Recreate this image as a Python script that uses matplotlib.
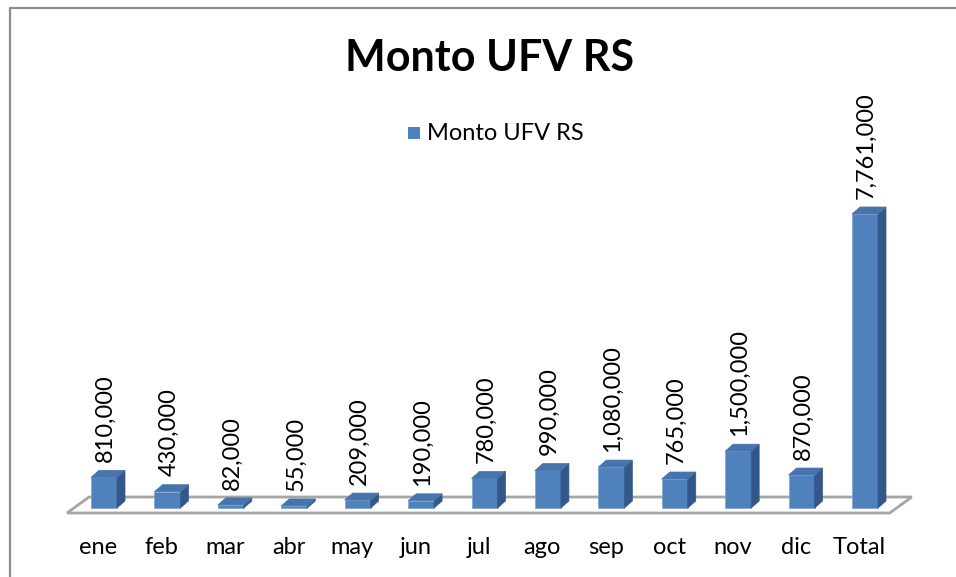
import matplotlib.pyplot as plt
from matplotlib.patches import Polygon, Rectangle
from matplotlib.lines import Line2D

# === datos ===
meses = ["ene", "feb", "mar", "abr", "may", "jun", "jul", "ago", "sep",
         "oct", "nov", "dic", "Total"]
montos = [810000, 430000, 82000, 55000, 209000, 190000, 780000, 990000,
          1080000, 765000, 1500000, 870000, 7761000]
serie = "Monto UFV RS"

FRONT = "#4F81BD"
SIDE = "#34578A"
TOP = "#4774AC"
FONT = "Lato"

W, H = 956, 577
fig = plt.figure(figsize=(W / 100, H / 100), dpi=100)

# marco exterior (solo arriba e izquierda quedan dentro de la imagen)
fig.lines.append(Line2D([9.5 / W, 9.5 / W, 1], [0, 1 - 7.5 / H, 1 - 7.5 / H],
                        transform=fig.transFigure, color="#8C8C8C", linewidth=1.6))

ax = fig.add_axes([60 / W, (H - 530) / H, (925 - 60) / W, (530 - 80) / H])
ax.set_xlim(-0.694, 12.946)
ax.set_ylim(-580756, 11298344)
ax.axis("off")

# === piso 3D ===
dep_x, dep_y = 0.347, 422000
fl = Polygon([(-0.583, -132000), (12.39, -132000),
              (12.39 + dep_x, -132000 + dep_y), (-0.583 + dep_x, -132000 + dep_y)],
             closed=True, facecolor="white", edgecolor="#A6A6A6", linewidth=2, zorder=1)
ax.add_patch(fl)

# === barras 3D ===
bw = 0.41
dx, dy = 0.126, 185000
for i, v in enumerate(montos):
    x0 = i - bw / 2
    x1 = i + bw / 2
    ax.bar(i, v, width=bw, color=FRONT, edgecolor="#7FA3D3", linewidth=0.5, zorder=3)
    side = Polygon([(x1, 0), (x1 + dx, dy), (x1 + dx, v + dy), (x1, v)],
                   closed=True, facecolor=SIDE, edgecolor=SIDE, linewidth=0.5, zorder=3)
    top = Polygon([(x0, v), (x1, v), (x1 + dx, v + dy), (x0 + dx, v + dy)],
                  closed=True, facecolor=TOP, edgecolor=TOP, linewidth=0.5, zorder=3)
    ax.add_patch(side)
    ax.add_patch(top)
    ax.annotate(f"{v:,}", (i, v), xytext=(1, 11), textcoords="offset points",
                rotation=90, ha="center", va="bottom", fontsize=17, family=FONT)

# etiquetas de categoria
for i, m in enumerate(meses):
    ax.annotate(m, (i, -580756), xytext=(-4, -12.5), textcoords="offset points",
                ha="center", va="center", fontsize=17, family=FONT,
                annotation_clip=False)

# titulo y leyenda
fig.text(490 / W, 1 - 58 / H, serie, ha="center", va="center",
         fontsize=31, fontweight="bold", family=FONT)
fig.patches.append(Rectangle((408 / W, 1 - 139 / H), 12 / W, 12 / H,
                             transform=fig.transFigure, facecolor=FRONT, edgecolor="none"))
fig.text(427 / W, 1 - 133 / H, serie, ha="left", va="center", fontsize=17, family=FONT)

fig.savefig("out.png", dpi=100)
